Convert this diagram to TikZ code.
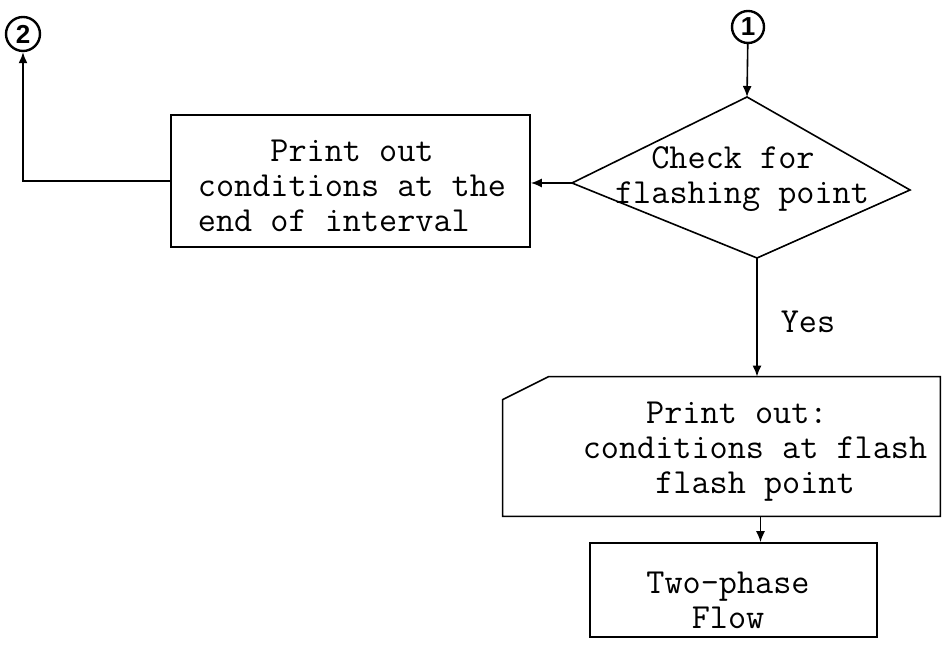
\documentclass[tikz,border=0pt]{standalone}
\usepackage{fontspec}
\newfontfamily\hw{Liberation Sans}
\usetikzlibrary{arrows.meta,calc}
\begin{document}
\begin{tikzpicture}[x=0.5pt,y=-0.5pt,
  every node/.style={inner sep=0pt},
  ln/.style={line width=0.8pt,black},
  arr/.style={ln,-{Latex[length=5.5pt,width=4.5pt]}},
  boxnode/.style={draw,line width=0.8pt,rectangle},
  txt/.style={font=\ttfamily\fontsize{17.6pt}{17.5pt}\selectfont},
  conn/.style={draw,circle,line width=1.2pt,font=\hw\bfseries\fontsize{13pt}{13pt}\selectfont}]
\useasboundingbox (0,0) rectangle (946,656);
% connectors (circles)
\node[conn,minimum size=17pt] (c2) at (23,34) {2};
\node[conn,minimum size=16pt] (c1) at (748,27) {1};
% left box
\node[boxnode,minimum width=179.5pt,minimum height=66pt] (lb) at (350.5,181) {};
\node[txt,align=left] (lbt) at (352,186) {\phantom{xxxx}Print out\\conditions at the\\end of interval};
% diamond
\coordinate (dt) at (747,97);
\coordinate (dl) at (572,183);
\coordinate (dr) at (910,190);
\coordinate (db) at (757,258);
\draw[ln] (dt) -- (dr) -- (db) -- (dl) -- cycle;
\node[txt,align=left] (dtx) at (742,179) {\phantom{xx}Check for\\flashing point};
% card (print out)
\node[minimum width=218.5pt,minimum height=69.5pt] (card) at (721.5,446.5) {};
\draw[ln] (card.south west) -- ($(card.north west)+(0,23)$) -- ($(card.north west)+(46,0)$) -- (card.north east) -- (card.south east) -- cycle;
\node[txt,align=center] (cardt) at (755,452) {Print out:\phantom{xx}\\conditions at flash\\flash point};
% two-phase box
\node[boxnode,minimum width=143.5pt,minimum height=47pt] (tp) at (733.5,590) {};
\node[txt,align=center] (tpt) at (728,600) {Two-phase\\Flow};
\coordinate (tpin) at ($(tp.north)+(27,0)$);
% Yes label
\node[txt] (yes) at (808,322) {Yes};
% connectors
\draw[arr] (c1) -- (dt);
\draw[arr] (dl) -- (dl -| lb.east);
\draw[arr] (lb.west) -| (c2.south);
\draw[arr] (db) -- (db |- card.north);
\draw[arr] (tpin |- card.south) -- (tpin);
\end{tikzpicture}
\end{document}
